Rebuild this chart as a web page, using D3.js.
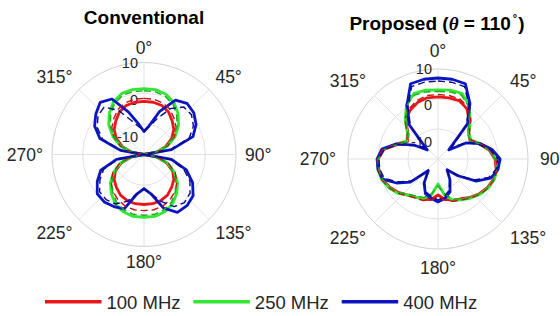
<!DOCTYPE html>
<html>
<head>
<meta charset="utf-8">
<script src="https://cdn.jsdelivr.net/npm/d3@7"></script>
<style>
  body { margin: 0; background: #fff; }
  svg { display: block; font-family: "Liberation Sans", Arial, sans-serif; }
</style>
</head>
<body>
<svg id="chart" width="560" height="316"></svg>
<script>
// angles in degrees, clockwise from the top
const angles = d3.range(0, 360, 10);
const rTicks = [-10, 0, 10];
const thetaTicks = [0, 45, 90, 135, 180, 225, 270, 315];
const freqs = ['100 MHz', '250 MHz', '400 MHz'];
const colors = ['#e8161b', '#33e633', '#0b16c2'];
const dashColors = ['#c41010', '#22a822', '#0a0a8a'];

// Conventional: solid = measured, dashed = simulated (dB)
const convRed      = [-2.7,-2.7,-3.0,-4.0,-5.7,-7.3,-9.6,-12.5,-16.1,-20,-16.1,-12.2,-9.2,-7.3,-6.0,-4.7,-4.0,-3.7,-3.7,-3.7,-4.0,-4.7,-6.0,-7.3,-9.2,-12.2,-16.1,-20,-16.1,-12.5,-9.6,-7.3,-5.7,-4.0,-3.0,-2.7];
const convRedSim   = [-1.7,-1.7,-2.1,-3.0,-4.7,-6.3,-8.6,-11.8,-15.8,-20,-15.8,-11.5,-8.3,-6.0,-4.3,-3.0,-2.1,-1.7,-1.7,-1.7,-2.1,-3.0,-4.3,-6.0,-8.3,-11.5,-15.8,-20,-15.8,-11.8,-8.6,-6.3,-4.7,-3.0,-2.1,-1.7];
const convGreen    = [1.5,1.5,0.9,-0.4,-2.7,-5.3,-8.3,-11.8,-16.1,-20,-16.1,-11.8,-8.6,-5.7,-3.4,-1.4,-0.1,0.5,0.5,0.5,-0.1,-1.4,-3.4,-5.7,-8.6,-11.8,-16.1,-20,-16.1,-11.8,-8.3,-5.0,-2.4,-0.1,1.2,1.5];
const convGreenSim = [0.8,0.8,0.2,-1.1,-3.4,-6.0,-9.0,-12.5,-16.5,-20,-16.5,-12.5,-9.3,-6.4,-4.1,-2.1,-0.8,-0.2,-0.2,-0.2,-0.8,-2.1,-4.1,-6.4,-9.3,-12.5,-16.5,-20,-16.5,-12.5,-9.0,-5.7,-3.1,-0.8,0.5,0.8];
const convBlue     = [-12.5,-10.5,-5.0,0.5,1.8,1.2,-0.4,-3.0,-10.9,-20,-10.9,-5.3,-1.7,0.9,1.8,1.8,-1.4,-7.0,-8.9,-7.0,-1.1,-0.4,0.2,-0.1,-2.4,-5.0,-10.9,-20,-12.2,-4.7,-1.4,0.5,2.2,0.9,-5.3,-9.9];
const convBlueSim  = [-12.2,-10.9,-7.6,-2.7,0.2,0.2,-1.4,-4.3,-11.5,-20,-11.5,-6.3,-2.7,-0.4,0.5,-0.4,-3.7,-7.0,-8.6,-7.0,-3.7,-1.4,-0.8,-1.1,-3.4,-6.0,-11.5,-20,-12.8,-5.7,-2.4,-0.4,0.2,-3.4,-8.3,-10.9];

// Proposed (theta = 110 deg)
const propRed      = [0.7,0.7,0.7,-0.7,-3.7,-6.7,-7.7,-5.3,-2.7,-1.0,-0.3,-0.3,-1.0,-2.0,-3.3,-4.7,-5.3,-6.3,-8.0,-6.3,-5.7,-5.3,-4.3,-2.7,-1.3,-0.3,0,0,-1.7,-5.7,-8.3,-7.0,-3.3,-1.3,0,0.7];
const propRedSim   = [1.5,1.5,1.3,0,-3.0,-6.3,-7.3,-5.0,-2.3,-0.7,0,0,-0.7,-1.7,-3.0,-4.3,-5.0,-6.0,-7.3,-6.0,-5.3,-5.0,-4.0,-2.3,-1.0,0,0.3,0.3,-1.3,-5.3,-8.0,-6.7,-2.7,-0.7,0.7,1.5];
const propGreen    = [3.0,3.3,3.3,0.7,-3.3,-6.7,-7.3,-5.0,-2.3,-0.7,0,0,-0.7,-1.7,-3.0,-4.3,-5.3,-8.0,-11.7,-8.0,-6.0,-5.3,-4.3,-2.3,-1.0,0,0.3,0.3,-1.3,-5.3,-8.0,-6.7,-3.0,1.0,3.3,3.3];
const propGreenSim = [2.5,2.7,2.7,0.3,-3.7,-7.0,-7.7,-5.3,-2.7,-1.0,-0.3,-0.3,-1.0,-2.0,-3.3,-4.7,-5.7,-8.3,-11.0,-8.3,-6.3,-5.7,-4.7,-2.7,-1.3,-0.3,0,0,-1.7,-5.7,-8.3,-7.0,-3.3,0.7,2.7,2.7];
const propBlue     = [7.0,7.0,6.7,1.3,-4.7,-15.3,-9.3,-5.0,-1.7,0.7,0.3,-1.3,-5.3,-11.3,-15.3,-12.0,-8.3,-6.7,-5.7,-6.7,-7.7,-10.7,-15.0,-8.0,-4.0,-0.3,0.3,0.3,-1.0,-5.3,-10.7,-15.3,-5.0,0.7,6.7,7.0];
const propBlueSim  = [6.0,6.0,5.7,0.7,-5.3,-14.0,-9.0,-5.7,-2.3,0,-0.3,-2.0,-6.0,-11.7,-15.0,-12.3,-9.0,-7.3,-6.3,-7.3,-8.3,-11.0,-14.7,-8.7,-4.7,-1.0,-0.3,-0.3,-1.7,-6.0,-11.0,-14.0,-5.7,0,5.7,6.0];

const svg = d3.select('#chart');
const textColor = '#262626';

function drawPolar(cfg) {
	const g = svg.append('g')
		.attr('transform', `translate(${cfg.cx}, ${cfg.cy})`);

	const r = d3.scaleLinear().domain([-20, 10]).range([0, cfg.R]).clamp(true);
	const toRad = d3.scaleLinear().domain([0, 360]).range([0, 2 * Math.PI]);

	// grid
	g.selectAll('circle.ring')
		.data(rTicks).enter()
		.append('circle')
		.attr('class', 'ring')
		.attr('r', d => r(d))
		.attr('fill', 'none')
		.attr('stroke', d => d === 10 ? '#d2d2d2' : '#e2e2e2')
		.attr('stroke-width', 1);

	g.selectAll('line.spoke')
		.data(thetaTicks).enter()
		.append('line')
		.attr('class', 'spoke')
		.attr('x2', d => Math.sin(toRad(d)) * cfg.R)
		.attr('y2', d => -Math.cos(toRad(d)) * cfg.R)
		.attr('stroke', '#e2e2e2')
		.attr('stroke-width', 1);

	// theta labels
	const fs = 17.5, cap = 0.72 * fs, rho = cfg.R + cfg.pad;
	g.selectAll('text.theta')
		.data(thetaTicks).enter()
		.append('text')
		.attr('class', 'theta')
		.attr('font-size', fs)
		.attr('fill', textColor)
		.attr('x', d => Math.sin(toRad(d)) * rho)
		.attr('y', d => {
			const c = Math.cos(toRad(d));
			const y = -c * rho;
			if (c > 0.1) return y;
			if (c < -0.1) return y + cap;
			return y + cap / 2;
		})
		.attr('text-anchor', d => {
			const s = Math.sin(toRad(d));
			return s > 0.1 ? 'start' : s < -0.1 ? 'end' : 'middle';
		})
		.text(d => d + '°');

	// r labels
	g.selectAll('text.rtick')
		.data(rTicks).enter()
		.append('text')
		.attr('class', 'rtick')
		.attr('font-size', 14.5)
		.attr('fill', textColor)
		.attr('text-anchor', 'end')
		.attr('x', -6)
		.attr('y', d => -r(d) + 5 + (1 - r(d) / cfg.R) * 19)
		.text(d => d);

	const line = d3.lineRadial()
		.angle(d => toRad(d[0]))
		.radius(d => r(d[1]))
		.curve(d3.curveLinearClosed);

	cfg.solid.forEach((vals, i) => {
		g.append('path')
			.attr('d', line(angles.map((a, k) => [a, vals[k]])))
			.attr('fill', 'none')
			.attr('stroke', colors[i])
			.attr('stroke-width', 2.8)
			.attr('stroke-linejoin', 'round');
	});
	cfg.dashed.forEach((vals, i) => {
		g.append('path')
			.attr('d', line(angles.map((a, k) => [a, vals[k]])))
			.attr('fill', 'none')
			.attr('stroke', dashColors[i])
			.attr('stroke-width', 1.4)
			.attr('stroke-dasharray', '7,4');
	});
}

drawPolar({ cx: 144, cy: 154.5, R: 92, pad: 9,
	solid: [convRed, convGreen, convBlue],
	dashed: [convRedSim, convGreenSim, convBlueSim] });

drawPolar({ cx: 438, cy: 159, R: 90, pad: 12,
	solid: [propRed, propGreen, propBlue],
	dashed: [propRedSim, propGreenSim, propBlueSim] });

// titles
svg.append('text')
	.attr('x', 144).attr('y', 24)
	.attr('text-anchor', 'middle')
	.attr('font-size', 19).attr('font-weight', 'bold')
	.attr('fill', '#000')
	.text('Conventional');

const t2 = svg.append('text')
	.attr('x', 437).attr('y', 29.5)
	.attr('text-anchor', 'middle')
	.attr('font-size', 19).attr('font-weight', 'bold')
	.attr('fill', '#000');
t2.append('tspan').text('Proposed (');
t2.append('tspan').attr('font-family', '"Liberation Serif", serif').attr('font-style', 'italic').text('θ');
t2.append('tspan').text(' = 110');
t2.append('tspan').attr('font-size', 11).attr('dy', -8).attr('dx', 2).text('°');
t2.append('tspan').attr('dy', 8).attr('dx', 1).text(')');

// legend
const legendX = d3.scalePoint().domain(freqs).range([45, 341.7]);
const legend = svg.append('g').attr('class', 'legend');
legend.selectAll('line')
	.data(freqs).enter()
	.append('line')
	.attr('x1', d => legendX(d))
	.attr('x2', d => legendX(d) + 56.5)
	.attr('y1', 301.7).attr('y2', 301.7)
	.attr('stroke', (d, i) => colors[i])
	.attr('stroke-width', 3.5);
legend.selectAll('text')
	.data(freqs).enter()
	.append('text')
	.attr('x', d => legendX(d) + 61.5)
	.attr('y', 308.5)
	.attr('font-size', 18.5)
	.attr('fill', textColor)
	.text(d => d);
</script>
</body>
</html>
